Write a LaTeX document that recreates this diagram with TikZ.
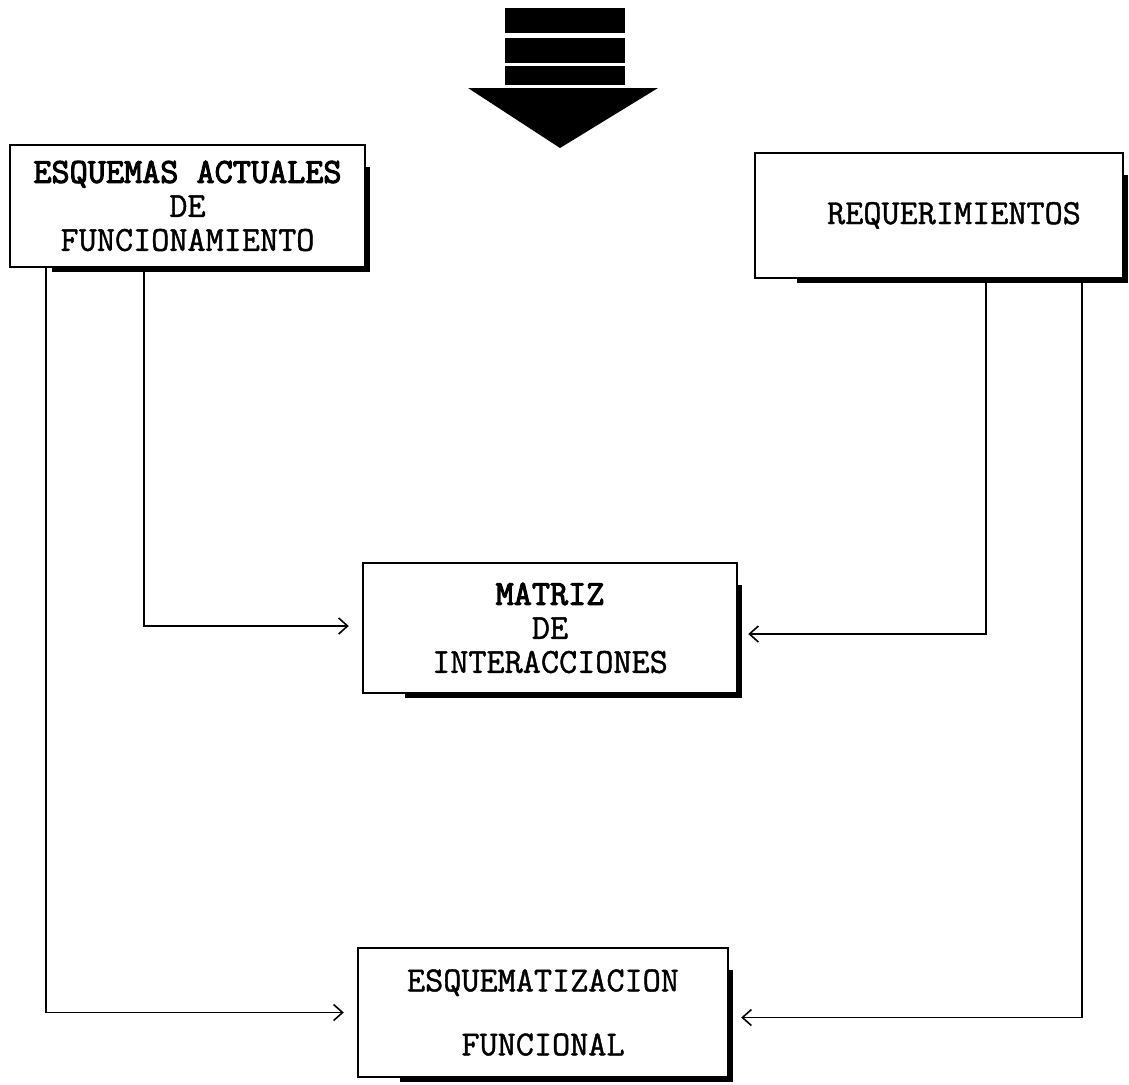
\documentclass[tikz,border=0pt]{standalone}
\usepackage{fontspec}
\newfontfamily\typefont[FakeBold=1.2]{Latin Modern Mono}
\newfontfamily\typebold[FakeBold=3]{Latin Modern Mono}
\usetikzlibrary{arrows.meta, positioning, calc}

\begin{document}
\begin{tikzpicture}[
    x=0.5pt, y=-0.5pt,
    font=\typefont\bfseries\fontsize{17.6}{17}\selectfont,
    >={Straight Barb[length=4.5pt, width=8pt]},
    box/.style={draw, line width=1.2pt, fill=white,
        minimum width=#1, inner sep=0pt, align=center},
    shade/.style={line width=2pt, line cap=rect},
    link/.style={->, line width=0.8pt},
    bigarrow/.style={fill=black},
]
\useasboundingbox (0,0) rectangle (1129,1084);
%% Top arrow
\foreach \ya/\yb in {8/33, 38/63, 66/85}
    \fill[bigarrow] (505,\ya) rectangle (625,\yb);
\fill[bigarrow] (468,88) -- (658,88) -- (560,148) -- cycle;
%% Boxes
\node[box=177.5pt, minimum height=61pt] (esq) at (187.5, 206)
    {{\typebold\bfseries ESQUEMAS ACTUALES}\\DE\\FUNCIONAMIENTO};
\node[box=184pt, minimum height=62.5pt] (req) at (939, 215.5)
    {\hspace{15pt}REQUERIMIENTOS};
\node[box=187pt, minimum height=65pt] (mat) at (550, 628)
    {{\typebold\bfseries MATRIZ}\\DE\\INTERACCIONES};
\node[box=185pt, minimum height=64.5pt] (fun) at (543, 1012.5)
    {ESQUEMATIZACION\\[15pt]FUNCIONAL};
%% Shadows
\foreach \b in {esq, req, mat, fun}
    \draw[shade] ([shift={(45,2)}]\b.south west) -- ([shift={(2,2)}]\b.south east)
        -- ([shift={(2,25)}]\b.north east);
%% Arrows
\draw[link, shorten >=6.5pt] ($(esq.south west)+(135,0)$) |- ([yshift=1pt]mat.west);
\draw[link, shorten >=5pt] ($(req.south west)+(232,0)$) |- ([yshift=-3pt]mat.east);
\draw[link, shorten >=6.5pt] ($(esq.south west)+(37,0)$) |- (fun.west);
\draw[link, shorten >=6pt] ($(req.south west)+(328,0)$) |- ([yshift=-2.5pt]fun.east);
\end{tikzpicture}
\end{document}
